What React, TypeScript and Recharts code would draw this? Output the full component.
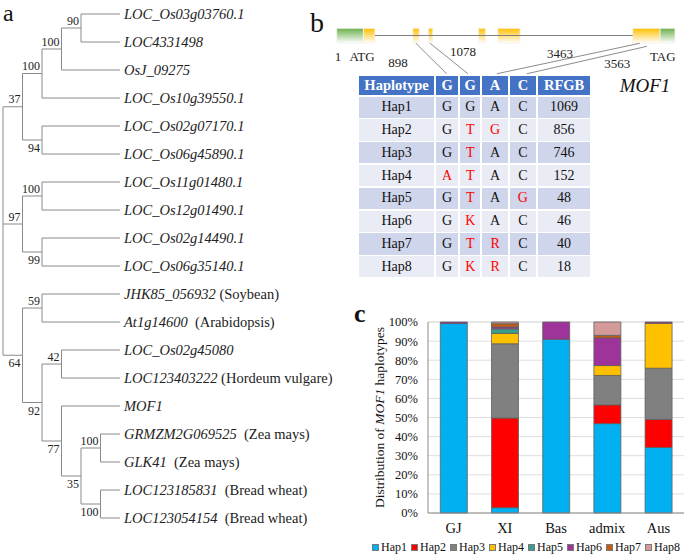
import React from 'react';
import {
  ScatterChart, Scatter, XAxis, YAxis, ReferenceLine, ReferenceArea,
  BarChart, Bar, CartesianGrid, Label,
} from 'recharts';

const SERIF = '"Liberation Serif", "Times New Roman", serif';

// ---- panel a: tree ----
type TreeNode = { name?: string; note?: string; support?: number; depth?: number; pos?: 'up' | 'down'; children?: TreeNode[] };
const leaf = (name: string, note = '', gap = 1): TreeNode => ({ name, note: note ? `${gap > 1 ? '\u00a0\u00a0' : '\u00a0'}(${note})` : '' });

const tree: TreeNode = { depth: 0, children: [
  { support: 37, depth: 1, pos: 'up', children: [
    { support: 100, depth: 2, pos: 'up', children: [
      { support: 100, depth: 3, pos: 'up', children: [
        { support: 90, depth: 4, pos: 'up', children: [leaf('LOC_Os03g03760.1'), leaf('LOC4331498')] },
        leaf('OsJ_09275'),
      ] },
      leaf('LOC_Os10g39550.1'),
    ] },
    { support: 94, depth: 2, pos: 'down', children: [leaf('LOC_Os02g07170.1'), leaf('LOC_Os06g45890.1')] },
  ] },
  { support: 97, depth: 1, pos: 'up', children: [
    { support: 100, depth: 2, pos: 'up', children: [leaf('LOC_Os11g01480.1'), leaf('LOC_Os12g01490.1')] },
    { support: 99, depth: 2, pos: 'down', children: [leaf('LOC_Os02g14490.1'), leaf('LOC_Os06g35140.1')] },
  ] },
  { support: 64, depth: 1, pos: 'down', children: [
    { support: 59, depth: 2, pos: 'up', children: [leaf('JHK85_056932', 'Soybean'), leaf('At1g14600', 'Arabidopsis', 2)] },
    { support: 92, depth: 2, pos: 'down', children: [
      { support: 42, depth: 3, pos: 'up', children: [leaf('LOC_Os02g45080'), leaf('LOC123403222', 'Hordeum vulgare')] },
      { support: 77, depth: 3, pos: 'down', children: [
        leaf('MOF1'),
        { support: 35, depth: 4, pos: 'down', children: [
          { support: 100, depth: 5, pos: 'up', children: [leaf('GRMZM2G069525', 'Zea mays', 2), leaf('GLK41', 'Zea mays', 2)] },
          { support: 100, depth: 5, pos: 'down', children: [leaf('LOC123185831', 'Bread wheat', 2), leaf('LOC123054154', 'Bread wheat', 2)] },
        ] },
      ] },
    ] },
  ] },
] };

const LEAF_DEPTH = 6;
const segs: { x1: number; y1: number; x2: number; y2: number }[] = [];
const tips: { x: number; y: number; name: string; note: string }[] = [];
const supports: { x: number; y: number; label: number; pos: string }[] = [];
let leafIdx = 0;
function place(node: TreeNode): number {
  if (!node.children) {
    const y = leafIdx++;
    tips.push({ x: LEAF_DEPTH, y, name: node.name!, note: node.note || '' });
    return y;
  }
  const d = node.depth!;
  const ys = node.children.map((c) => {
    const cy = place(c);
    segs.push({ x1: d, y1: cy, x2: c.children ? c.depth! : LEAF_DEPTH, y2: cy });
    return cy;
  });
  segs.push({ x1: d, y1: ys[0], x2: d, y2: ys[ys.length - 1] });
  const y = (ys[0] + ys[ys.length - 1]) / 2;
  if (node.support != null) supports.push({ x: d, y, label: node.support, pos: node.pos! });
  return y;
}
place(tree);

// ---- panel b: gene model and haplotype table ----
const exons = [
  { x1: 0, x2: 79, kind: 'utr' },
  { x1: 79, x2: 113, kind: 'cds' },
  { x1: 225, x2: 244, kind: 'cds' },
  { x1: 271, x2: 284, kind: 'cds' },
  { x1: 419, x2: 440, kind: 'cds' },
  { x1: 476, x2: 542, kind: 'cds' },
  { x1: 875, x2: 956, kind: 'cds' },
  { x1: 956, x2: 1000, kind: 'utr' },
];
const geneLabels = [
  { x: 4, y: 0.34, text: '1' },
  { x: 75, y: 0.34, text: 'ATG' },
  { x: 181, y: 0.25, text: '898' },
  { x: 373, y: 0.43, text: '1078' },
  { x: 660, y: 0.41, text: '3463' },
  { x: 829, y: 0.23, text: '3563' },
  { x: 964, y: 0.34, text: 'TAG' },
];
// snp position on the gene -> column of the table
const snpLinks = [
  { from: 234, fromY: 0.584, to: 325 },
  { from: 276, fromY: 0.584, to: 388 },
  { from: 896, fromY: 0.584, to: 473 },
  { from: 917, fromY: 0.53, to: 562 },
];

const tableHead = ['Haplotype', 'G', 'G', 'A', 'C', 'RFGB'];
const haplotypes = ['Hap1', 'Hap2', 'Hap3', 'Hap4', 'Hap5', 'Hap6', 'Hap7', 'Hap8'];
const alleles = [
  ['G', 'G', 'A', 'C'],
  ['G', 'T', 'G', 'C'],
  ['G', 'T', 'A', 'C'],
  ['A', 'T', 'A', 'C'],
  ['G', 'T', 'A', 'G'],
  ['G', 'K', 'A', 'C'],
  ['G', 'T', 'R', 'C'],
  ['G', 'K', 'R', 'C'],
];
const refAllele = ['G', 'G', 'A', 'C'];
const rfgbCounts = [1069, 856, 746, 152, 48, 46, 40, 18];
const colWidths = [76.7, 24.3, 22, 27.7, 28, 54.3];

// ---- panel c: haplotype distribution ----
const groups = ['GJ', 'XI', 'Bas', 'admix', 'Aus'];
const hap1 = [99.2, 2.8, 90.9, 46.8, 34.3];
const hap2 = [0, 46.9, 0, 9.8, 14.7];
const hap3 = [0, 38.9, 0, 15.4, 26.8];
const hap4 = [0, 5.4, 0, 5.2, 23.5];
const hap5 = [0, 2.4, 0, 0, 0];
const hap6 = [0.8, 1.0, 9.1, 14.5, 0.7];
const hap7 = [0, 1.7, 0, 1.3, 0];
const hap8 = [0, 0.9, 0, 7.0, 0];
const hapSeries = [hap1, hap2, hap3, hap4, hap5, hap6, hap7, hap8];
const hapColors = ['#00B0F0', '#FF0000', '#808080', '#FFC000', '#3A9E8C', '#9E3399', '#C55A11', '#D49A9A'];
const yTicks = [0, 10, 20, 30, 40, 50, 60, 70, 80, 90, 100];

const barData = groups.map((g, i) => {
  const row: Record<string, number | string> = { group: g };
  haplotypes.forEach((h, k) => { row[h] = hapSeries[k][i]; });
  return row;
});

function TreePanel() {
  return (
    <ScatterChart width={340} height={555} margin={{ top: 14, right: 220, bottom: 37, left: 3 }}>
      <XAxis type="number" dataKey="x" domain={[0, LEAF_DEPTH]} hide />
      <YAxis type="number" dataKey="y" domain={[0, tips.length - 1]} reversed hide />
      {segs.map((s, i) => (
        <ReferenceLine key={i} segment={[{ x: s.x1, y: s.y1 }, { x: s.x2, y: s.y2 }]}
          stroke="#8a8a8a" strokeWidth={1} ifOverflow="visible" />
      ))}
      <Scatter data={tips} isAnimationActive={false}
        shape={(p: any) => (
          <text x={p.cx + 4} y={p.cy + 4.5} fontFamily={SERIF} fontSize={14.5} fill="#222">
            <tspan fontStyle="italic">{p.payload.name}</tspan>
            {p.payload.note ? <tspan>{p.payload.note}</tspan> : null}
          </text>
        )} />
      <Scatter data={supports} isAnimationActive={false}
        shape={(p: any) => (
          <text x={p.cx - 2} y={p.payload.pos === 'up' ? p.cy - 3.5 : p.cy + 12}
            textAnchor="end" fontFamily={SERIF} fontSize={12} fill="#222">{p.payload.label}</text>
        )} />
    </ScatterChart>
  );
}

function GenePanel() {
  return (
    <ScatterChart width={355} height={56} margin={{ top: 0, right: 10, bottom: 0, left: 6.7 }}>
      <defs>
        <linearGradient id="gCds" x1="0" y1="0" x2="0" y2="1">
          <stop offset="0%" stopColor="#FFC000" />
          <stop offset="100%" stopColor="#FFFFFF" />
        </linearGradient>
        <linearGradient id="gUtr" x1="0" y1="0" x2="0" y2="1">
          <stop offset="0%" stopColor="#6BB04A" />
          <stop offset="100%" stopColor="#FFFFFF" />
        </linearGradient>
      </defs>
      <XAxis type="number" dataKey="x" domain={[0, 1000]} hide />
      <YAxis type="number" dataKey="y" domain={[0, 1]} hide />
      <ReferenceLine segment={[{ x: 113, y: 0.723 }, { x: 875, y: 0.723 }]} stroke="#7f7f7f" ifOverflow="visible" />
      {exons.map((e, i) => (
        <ReferenceArea key={i} x1={e.x1} x2={e.x2} y1={0.584} y2={0.852}
          fill={e.kind === 'utr' ? 'url(#gUtr)' : 'url(#gCds)'} fillOpacity={1}
          stroke="#f4f4f4" strokeWidth={0.8} ifOverflow="visible" />
      ))}
      {snpLinks.map((l, i) => (
        <ReferenceLine key={`l${i}`} segment={[{ x: l.from, y: l.fromY }, { x: l.to, y: 0.04 }]}
          stroke="#7f7f7f" strokeWidth={0.9} ifOverflow="visible" />
      ))}
      <Scatter data={geneLabels} isAnimationActive={false}
        shape={(p: any) => (
          <text x={p.cx} y={p.cy + 4.5} textAnchor="middle" fontFamily={SERIF} fontSize={13} fill="#222">{p.payload.text}</text>
        )} />
    </ScatterChart>
  );
}

function HapTable() {
  const cell = (w: number, h: number, bg: string): React.CSSProperties => ({
    width: w - 1.5, height: h, marginRight: 1.5, background: bg, display: 'flex',
    alignItems: 'center', justifyContent: 'center', boxSizing: 'border-box',
  });
  return (
    <div style={{ position: 'absolute', left: 359, top: 76, fontFamily: SERIF, fontSize: 14, color: '#111' }}>
      <div style={{ display: 'flex', marginBottom: 1.6 }}>
        {tableHead.map((t, i) => (
          <div key={i} style={{ ...cell(colWidths[i], 19, '#4472C4'), color: '#fff', fontWeight: 'bold', fontSize: 14.5 }}>{t}</div>
        ))}
      </div>
      {haplotypes.map((h, r) => {
        const bg = r % 2 === 0 ? '#CFD5EA' : '#E9EBF5';
        return (
          <div key={h} style={{ display: 'flex', marginBottom: 1.5 }}>
            <div style={cell(colWidths[0], 21.3, bg)}>{h}</div>
            {alleles[r].map((a, c) => (
              <div key={c} style={{ ...cell(colWidths[c + 1], 21.3, bg), color: a === refAllele[c] ? '#111' : '#FF0000' }}>{a}</div>
            ))}
            <div style={cell(colWidths[5], 21.3, bg)}>{rfgbCounts[r]}</div>
          </div>
        );
      })}
    </div>
  );
}

function YTitle(props: any) {
  const vb = props.viewBox || { x: 0, y: 0, height: 0 };
  const cx = vb.x + 39;
  const cy = vb.y + vb.height / 2;
  return (
    <text x={cx} y={cy} transform={`rotate(-90 ${cx} ${cy})`} textAnchor="middle" dominantBaseline="central"
      fontFamily={SERIF} fontSize={13.5} fill="#111">
      Distribution of <tspan fontStyle="italic">MOF1</tspan> haplotypes
    </text>
  );
}

function DistChart() {
  return (
    <BarChart width={345} height={255} data={barData} margin={{ top: 22, right: 1, bottom: 20, left: 0 }} barCategoryGap="24%">
      <CartesianGrid vertical={false} stroke="#dedede" />
      <XAxis dataKey="group" interval={0} height={22} tickLine={false} tickMargin={4}
        axisLine={{ stroke: '#8a8a8a' }} tick={{ fontFamily: SERIF, fontSize: 14.5, fill: '#111' }} />
      <YAxis width={88} domain={[0, 100]} ticks={yTicks} interval={0} tickFormatter={(v) => `${v}%`} tickLine={false} tickMargin={4}
        axisLine={{ stroke: '#8a8a8a' }} tick={{ fontFamily: SERIF, fontSize: 12.5, fill: '#111' }}>
        <Label content={YTitle} />
      </YAxis>
      {haplotypes.map((h, k) => (
        <Bar key={h} dataKey={h} stackId="hap" fill={hapColors[k]} stroke="#5f5f5f" strokeWidth={0.8} isAnimationActive={false} />
      ))}
    </BarChart>
  );
}

export default function App() {
  return (
    <div style={{ position: 'absolute', left: 0, top: 0, width: 685, height: 555, background: '#fff', overflow: 'hidden', fontFamily: SERIF }}>
      <div style={{ position: 'absolute', left: 0, top: 0 }}><TreePanel /></div>
      <div style={{ position: 'absolute', left: 330, top: 20 }}><GenePanel /></div>
      <HapTable />
      <div style={{ position: 'absolute', left: 340, top: 300 }}><DistChart /></div>
      <div style={{ position: 'absolute', left: 372, top: 540, display: 'flex', fontFamily: SERIF, fontSize: 12, color: '#111', lineHeight: '14px' }}>
        {haplotypes.map((h, k) => (
          <div key={h} style={{ display: 'flex', alignItems: 'center', marginRight: 4 }}>
            <span style={{ width: 5, height: 5, background: hapColors[k], border: '1px solid #7a7a7a', marginRight: 2, display: 'inline-block' }} />
            {h}
          </div>
        ))}
      </div>
      <svg width={685} height={555} style={{ position: 'absolute', left: 0, top: 0, pointerEvents: 'none' }}>
        <text x={3} y={21} fontFamily={SERIF} fontSize={24} fill="#111">a</text>
        <text x={310} y={32} fontFamily={SERIF} fontSize={28} fill="#111">b</text>
        <text x={354} y={322} fontFamily={SERIF} fontSize={26} fontWeight="bold" fill="#111">c</text>
        <text x={645} y={92} textAnchor="middle" fontFamily={SERIF} fontSize={19} fontStyle="italic" fill="#111">MOF1</text>
      </svg>
    </div>
  );
}
